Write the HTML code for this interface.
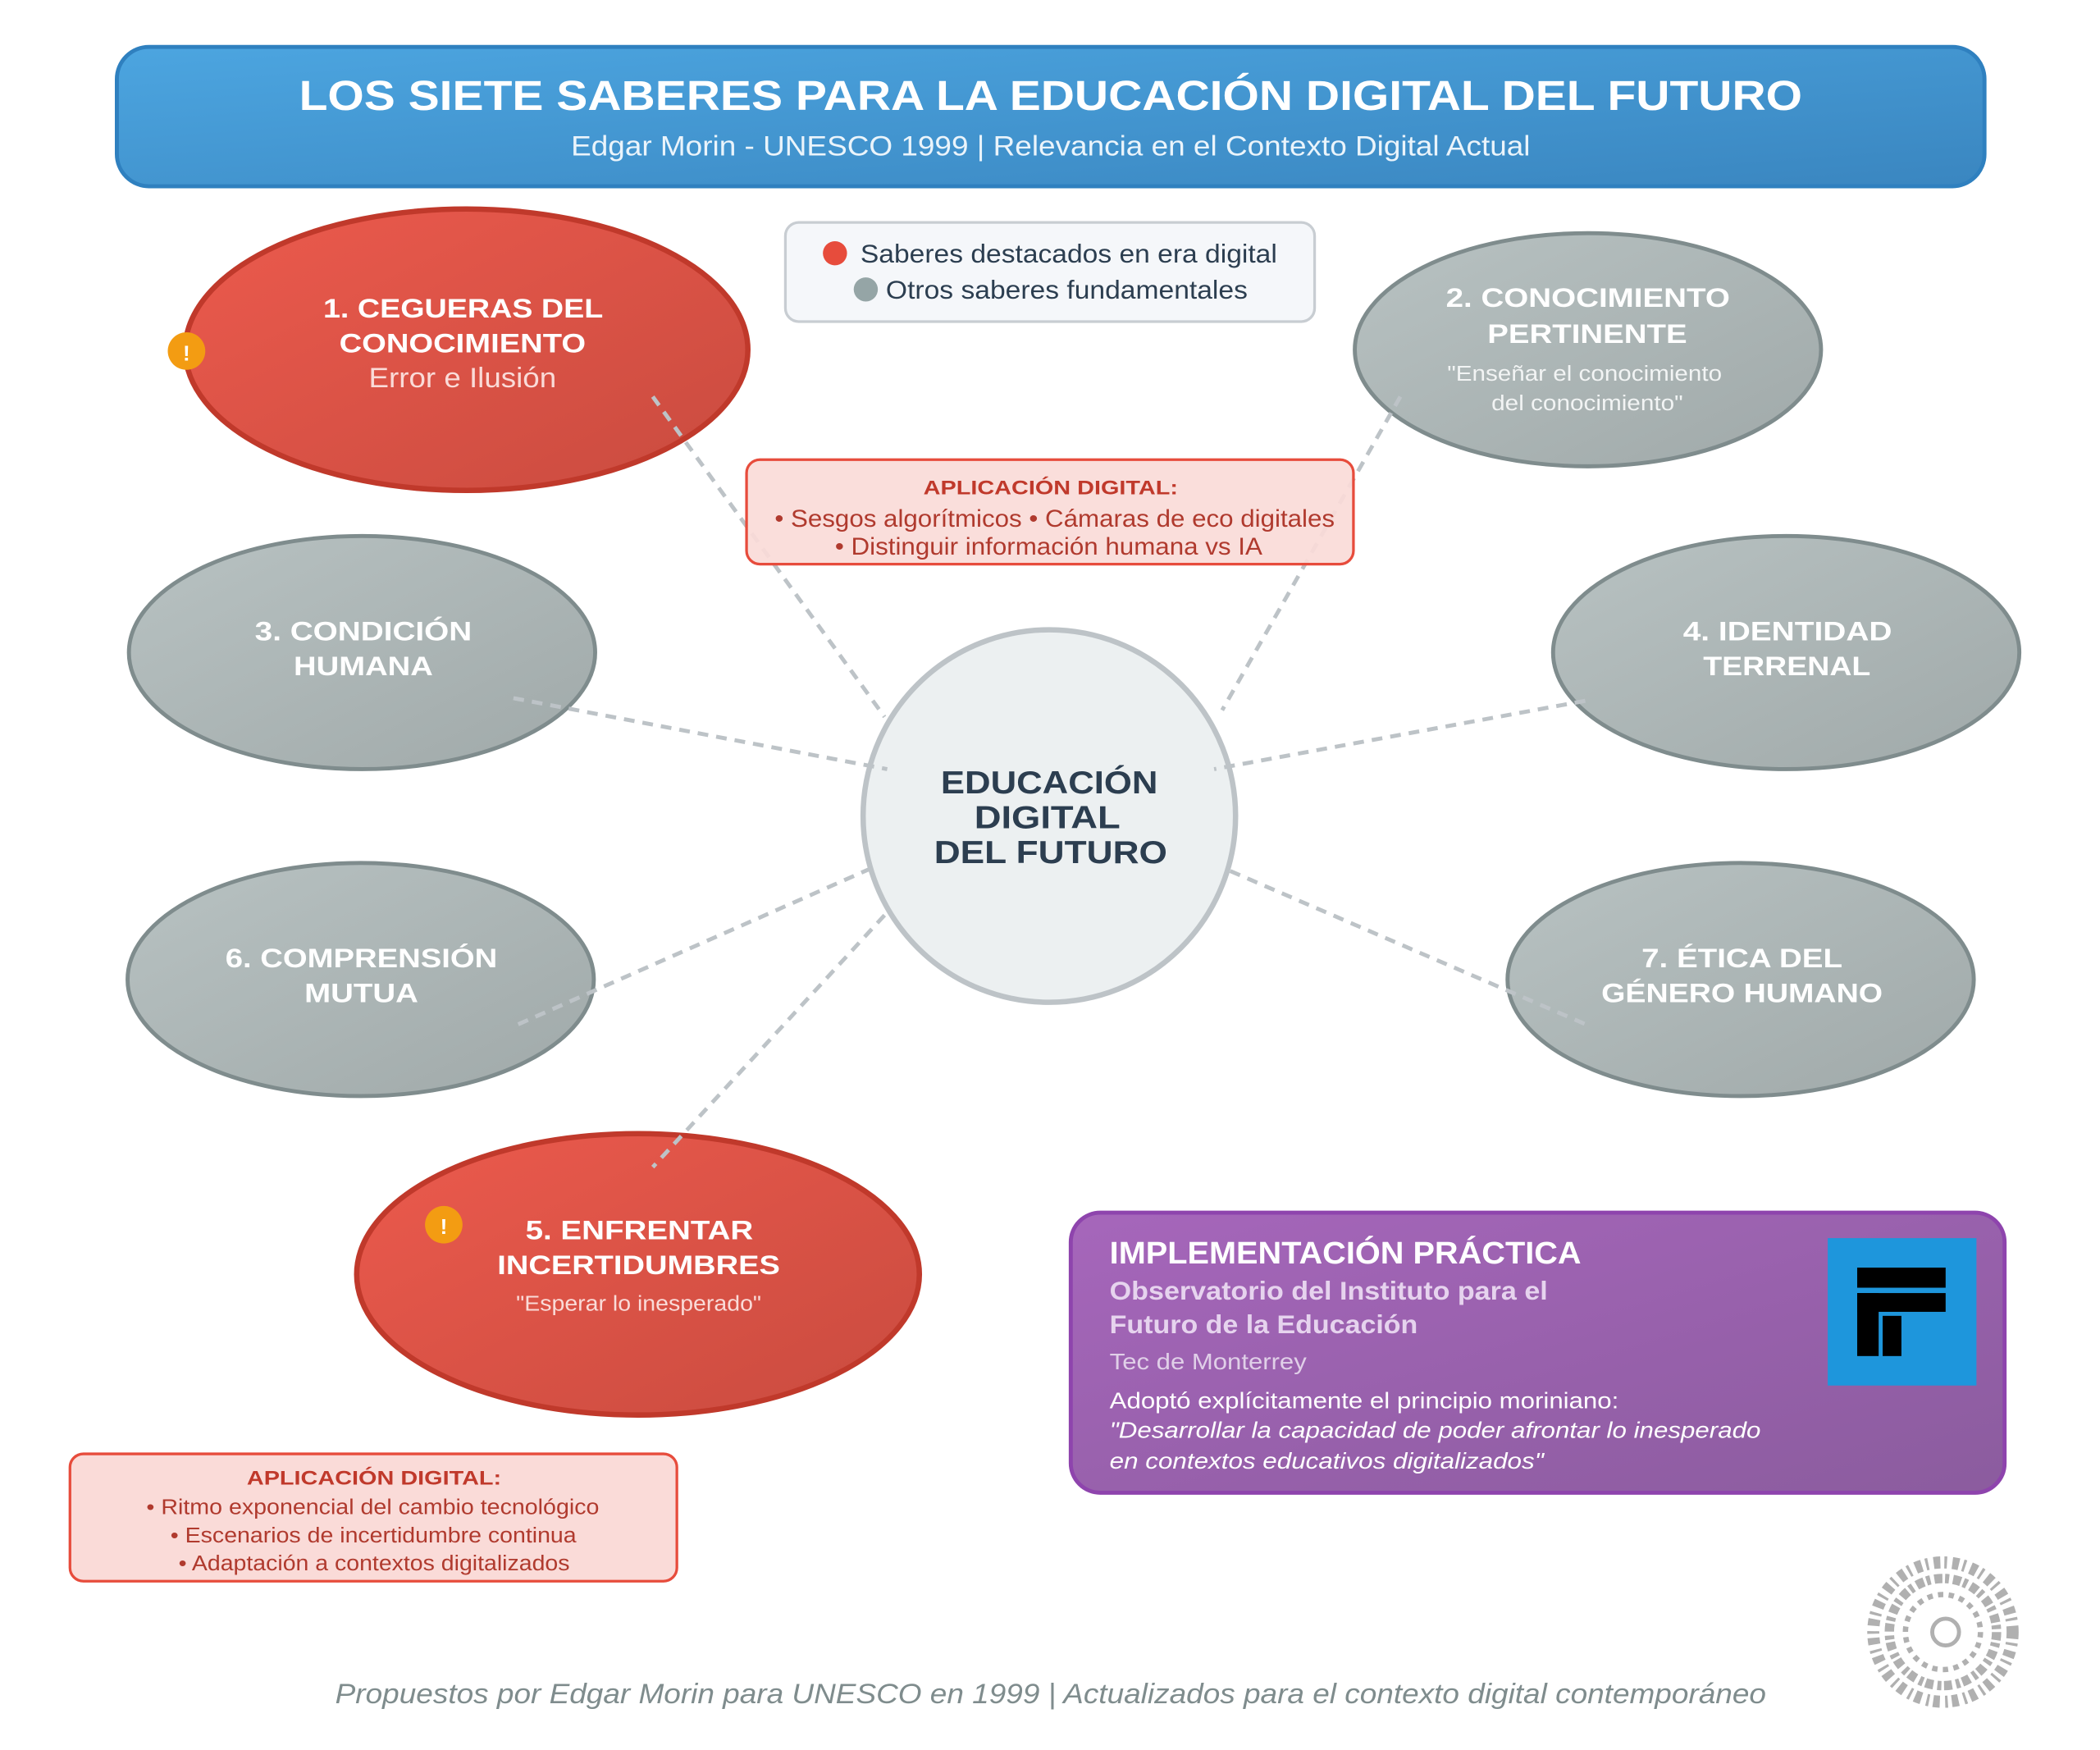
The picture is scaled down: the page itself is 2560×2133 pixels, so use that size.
<!DOCTYPE html>
<html><head><meta charset="utf-8"><style>html,body{margin:0;padding:0;background:#fff}svg{display:block}</style></head>
<body>
<svg width="2560" height="2133" viewBox="0 0 1567 1306" xmlns="http://www.w3.org/2000/svg" font-family="Liberation Sans, sans-serif">
<defs>
<linearGradient id="hb" x1="0" y1="0" x2="1" y2="1"><stop offset="0" stop-color="#4ca5e0"/><stop offset="1" stop-color="#3a86c0"/></linearGradient>
<linearGradient id="rd" x1="0" y1="0" x2="1" y2="1"><stop offset="0" stop-color="#ec5a4d"/><stop offset="1" stop-color="#c94b3f"/></linearGradient>
<linearGradient id="gr" x1="0" y1="0" x2="1" y2="1"><stop offset="0" stop-color="#b8c2c2"/><stop offset="1" stop-color="#a0a9a9"/></linearGradient>
<linearGradient id="pu" x1="0" y1="0" x2="1" y2="1"><stop offset="0" stop-color="#a666bb"/><stop offset="1" stop-color="#8b5c9e"/></linearGradient>
</defs>
<rect x="87" y="35" width="1394" height="104" rx="24" fill="url(#hb)" stroke="#2f80bf" stroke-width="3"/>
<text x="223" y="82" font-size="31" font-weight="bold" fill="#fff" textLength="1122" lengthAdjust="spacingAndGlyphs">LOS SIETE SABERES PARA LA EDUCACIÓN DIGITAL DEL FUTURO</text>
<text x="426" y="116" font-size="21" fill="#eaf4fb" textLength="716" lengthAdjust="spacingAndGlyphs">Edgar Morin - UNESCO 1999 | Relevancia en el Contexto Digital Actual</text>

<rect x="586" y="166" width="395" height="74" rx="10" fill="#f5f7fa" stroke="#c8cdd2" stroke-width="2"/>
<circle cx="623" cy="189" r="9" fill="#e74c3c"/>
<text x="642" y="196" font-size="19" fill="#2c3e50" textLength="311" lengthAdjust="spacingAndGlyphs">Saberes destacados en era digital</text>
<circle cx="646" cy="216" r="9" fill="#95a5a6"/>
<text x="661" y="223" font-size="19" fill="#2c3e50" textLength="270" lengthAdjust="spacingAndGlyphs">Otros saberes fundamentales</text>

<g fill="url(#gr)" stroke="#7f8c8d" stroke-width="3">
<ellipse cx="1185" cy="261" rx="174" ry="87"/>
<ellipse cx="270" cy="487" rx="174" ry="87"/>
<ellipse cx="1333" cy="487" rx="174" ry="87"/>
<ellipse cx="269" cy="731" rx="174" ry="87"/>
<ellipse cx="1299" cy="731" rx="174" ry="87"/>
</g>
<g fill="url(#rd)" stroke="#c0392b" stroke-width="4">
<ellipse cx="348" cy="261" rx="210" ry="105"/>
<ellipse cx="476" cy="951" rx="210" ry="105"/>
</g>
<circle cx="783" cy="609" r="139" fill="#ecf0f1" stroke="#bdc3c7" stroke-width="4"/>

<g stroke="#bdc3c7" stroke-width="3" stroke-dasharray="8,6">
<line x1="487" y1="296" x2="660" y2="535"/>
<line x1="1045" y1="296" x2="912" y2="530"/>
<line x1="383" y1="521" x2="662" y2="574"/>
<line x1="1183" y1="523" x2="906" y2="574"/>
<line x1="650" y1="648" x2="383" y2="766"/>
<line x1="918" y1="650" x2="1187" y2="766"/>
<line x1="660" y1="683" x2="487" y2="871"/>
</g>

<g font-weight="bold" font-size="20" fill="#fff" lengthAdjust="spacingAndGlyphs">
<text x="241" y="237" textLength="209" lengthAdjust="spacingAndGlyphs">1. CEGUERAS DEL</text>
<text x="253" y="263" textLength="184" lengthAdjust="spacingAndGlyphs">CONOCIMIENTO</text>
<text x="1079" y="229" textLength="212" lengthAdjust="spacingAndGlyphs">2. CONOCIMIENTO</text>
<text x="1110" y="256" textLength="149" lengthAdjust="spacingAndGlyphs">PERTINENTE</text>
<text x="190" y="478" textLength="162" lengthAdjust="spacingAndGlyphs">3. CONDICIÓN</text>
<text x="219" y="504" textLength="104" lengthAdjust="spacingAndGlyphs">HUMANA</text>
<text x="1256" y="478" textLength="156" lengthAdjust="spacingAndGlyphs">4. IDENTIDAD</text>
<text x="1271" y="504" textLength="125" lengthAdjust="spacingAndGlyphs">TERRENAL</text>
<text x="168" y="722" textLength="203" lengthAdjust="spacingAndGlyphs">6. COMPRENSIÓN</text>
<text x="227" y="748" textLength="85" lengthAdjust="spacingAndGlyphs">MUTUA</text>
<text x="1225" y="722" textLength="150" lengthAdjust="spacingAndGlyphs">7. ÉTICA DEL</text>
<text x="1195" y="748" textLength="210" lengthAdjust="spacingAndGlyphs">GÉNERO HUMANO</text>
<text x="392" y="925" textLength="170" lengthAdjust="spacingAndGlyphs">5. ENFRENTAR</text>
<text x="371" y="951" textLength="211" lengthAdjust="spacingAndGlyphs">INCERTIDUMBRES</text>
</g>
<text x="275" y="289" font-size="21" fill="#fadbd8" textLength="140" lengthAdjust="spacingAndGlyphs">Error e Ilusión</text>
<text x="1080" y="284" font-size="16" fill="#f2f4f4" textLength="205" lengthAdjust="spacingAndGlyphs">"Enseñar el conocimiento</text>
<text x="1113" y="306" font-size="16" fill="#f2f4f4" textLength="143" lengthAdjust="spacingAndGlyphs">del conocimiento"</text>
<text x="385" y="978" font-size="16" fill="#fadbd8" textLength="183" lengthAdjust="spacingAndGlyphs">"Esperar lo inesperado"</text>
<g font-weight="bold" font-size="24" fill="#2c3e50">
<text x="702" y="592" textLength="162" lengthAdjust="spacingAndGlyphs">EDUCACIÓN</text>
<text x="727" y="618" textLength="109" lengthAdjust="spacingAndGlyphs">DIGITAL</text>
<text x="697" y="644" textLength="174" lengthAdjust="spacingAndGlyphs">DEL FUTURO</text>
</g>
<circle cx="139" cy="262" r="14" fill="#f39c12"/><text x="139" y="269" text-anchor="middle" font-size="16" font-weight="bold" fill="#fff">!</text>
<circle cx="331" cy="914" r="14" fill="#f39c12"/><text x="331" y="921" text-anchor="middle" font-size="16" font-weight="bold" fill="#fff">!</text>

<rect x="557" y="343" width="453" height="78" rx="10" fill="#fadbd8" fill-opacity="0.92" stroke="#e74c3c" stroke-width="2"/>
<text x="689" y="369" font-size="15" font-weight="bold" fill="#c0392b" textLength="190" lengthAdjust="spacingAndGlyphs">APLICACIÓN DIGITAL:</text>
<text x="578" y="393" font-size="18" fill="#b03a2e" textLength="418" lengthAdjust="spacingAndGlyphs">• Sesgos algorítmicos • Cámaras de eco digitales</text>
<text x="623" y="414" font-size="18" fill="#b03a2e" textLength="319" lengthAdjust="spacingAndGlyphs">• Distinguir información humana vs IA</text>

<rect x="52" y="1085" width="453" height="95" rx="10" fill="#fadbd8" stroke="#e74c3c" stroke-width="2"/>
<text x="184" y="1108" font-size="15" font-weight="bold" fill="#c0392b" textLength="190" lengthAdjust="spacingAndGlyphs">APLICACIÓN DIGITAL:</text>
<text x="109" y="1130" font-size="16" fill="#b03a2e" textLength="338" lengthAdjust="spacingAndGlyphs">• Ritmo exponencial del cambio tecnológico</text>
<text x="127" y="1151" font-size="16" fill="#b03a2e" textLength="303" lengthAdjust="spacingAndGlyphs">• Escenarios de incertidumbre continua</text>
<text x="133" y="1172" font-size="16" fill="#b03a2e" textLength="292" lengthAdjust="spacingAndGlyphs">• Adaptación a contextos digitalizados</text>

<rect x="799" y="905" width="697" height="209" rx="22" fill="url(#pu)" stroke="#8e44ad" stroke-width="3"/>
<text x="828" y="943" font-size="23" font-weight="bold" fill="#fff" textLength="352" lengthAdjust="spacingAndGlyphs">IMPLEMENTACIÓN PRÁCTICA</text>
<text x="828" y="970" font-size="19" font-weight="bold" fill="#e6d3ee" textLength="327" lengthAdjust="spacingAndGlyphs">Observatorio del Instituto para el</text>
<text x="828" y="995" font-size="19" font-weight="bold" fill="#e6d3ee" textLength="230" lengthAdjust="spacingAndGlyphs">Futuro de la Educación</text>
<text x="828" y="1022" font-size="17" fill="#e0cfe8" textLength="147" lengthAdjust="spacingAndGlyphs">Tec de Monterrey</text>
<text x="828" y="1051" font-size="17" fill="#fff" textLength="380" lengthAdjust="spacingAndGlyphs">Adoptó explícitamente el principio moriniano:</text>
<text x="828" y="1073" font-size="17" font-style="italic" fill="#fff" textLength="486" lengthAdjust="spacingAndGlyphs">"Desarrollar la capacidad de poder afrontar lo inesperado</text>
<text x="828" y="1096" font-size="17" font-style="italic" fill="#fff" textLength="324" lengthAdjust="spacingAndGlyphs">en contextos educativos digitalizados"</text>
<rect x="1364" y="924" width="111" height="110" fill="#1e96dc"/>
<rect x="1386" y="946" width="66" height="15" fill="#000"/>
<rect x="1386" y="965" width="66" height="14" fill="#000"/>
<rect x="1386" y="965" width="16" height="47" fill="#000"/>
<rect x="1405" y="982" width="14" height="30" fill="#000"/>

<g fill="none" stroke="#b0b0b0">
<circle cx="1450" cy="1218" r="52" stroke-width="9" stroke-dasharray="5,3,2,4"/>
<circle cx="1450" cy="1218" r="40" stroke-width="7" stroke-dasharray="6,2,3,3"/>
<circle cx="1450" cy="1218" r="28" stroke-width="4" stroke-dasharray="4,4"/>
<circle cx="1452" cy="1218" r="10" stroke-width="3"/>
</g>
<text x="250" y="1271" font-size="21" font-style="italic" fill="#7f8c8d" textLength="1068" lengthAdjust="spacingAndGlyphs">Propuestos por Edgar Morin para UNESCO en 1999 | Actualizados para el contexto digital contemporáneo</text>
</svg>
</body></html>
